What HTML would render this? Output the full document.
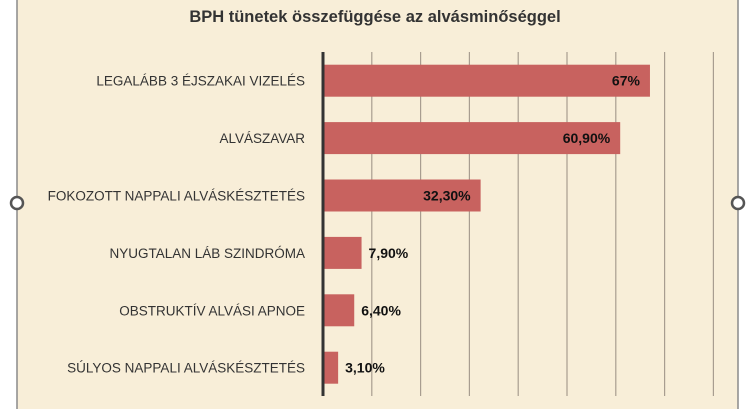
<!DOCTYPE html>
<html><head><meta charset="utf-8"><style>
body{margin:0;width:750px;height:409px;background:#fff;overflow:hidden;font-family:"Liberation Sans",sans-serif}
</style></head><body>
<svg width="750" height="409" viewBox="0 0 750 409">
<rect x="17" y="-2" width="721" height="420" fill="#f8eed8" stroke="#8a8a8a" stroke-width="1.5"/>
<text x="375" y="22" text-anchor="middle" font-size="16.5" font-weight="bold" fill="#333">BPH tünetek összefüggése az alvásminőséggel</text>
<g id="grid"></g>
<g id="bars"></g>
<line x1="323" y1="52" x2="323" y2="396" stroke="#333" stroke-width="3"/>
<circle cx="17" cy="203" r="6" fill="#fff" stroke="#555" stroke-width="2.5"/>
<circle cx="738" cy="203" r="6" fill="#fff" stroke="#555" stroke-width="2.5"/>
</svg>
<script>
const categories=["LEGALÁBB 3 ÉJSZAKAI VIZELÉS","ALVÁSZAVAR","FOKOZOTT NAPPALI ALVÁSKÉSZTETÉS","NYUGTALAN LÁB SZINDRÓMA","OBSTRUKTÍV ALVÁSI APNOE","SÚLYOS NAPPALI ALVÁSKÉSZTETÉS"];
const values=[67,60.9,32.3,7.9,6.4,3.1];
const valueLabels=["67%","60,90%","32,30%","7,90%","6,40%","3,10%"];
const gridTicks=[10,20,30,40,50,60,70,80];
const NS="http://www.w3.org/2000/svg";
const x0=323,pxPer=4.88,plotTop=52,rowH=57.4,barH=32;
const xs=v=>x0+v*pxPer;
const gridG=document.getElementById('grid'),barsG=document.getElementById('bars');
gridTicks.forEach(t=>{const l=document.createElementNS(NS,'line');
l.setAttribute('x1',xs(t));l.setAttribute('x2',xs(t));l.setAttribute('y1',plotTop);l.setAttribute('y2',396);
l.setAttribute('stroke','#a89d90');l.setAttribute('stroke-width','1.2');


gridG.appendChild(l);});
categories.forEach((c,i)=>{const cy=plotTop+rowH*(i+0.5);
const r=document.createElementNS(NS,'rect');
r.setAttribute('x',x0);r.setAttribute('y',cy-barH/2);r.setAttribute('width',values[i]*pxPer);r.setAttribute('height',barH);
r.setAttribute('fill','#c8625f');


barsG.appendChild(r);
const t=document.createElementNS(NS,'text');
t.setAttribute('x',305);t.setAttribute('y',cy+5);t.setAttribute('text-anchor','end');t.setAttribute('font-size','13.5');t.setAttribute('fill','#333');
t.textContent=c;


barsG.appendChild(t);
const v=document.createElementNS(NS,'text');
const inside=values[i]>20;
v.setAttribute('x',inside?xs(values[i])-10:xs(values[i])+7);v.setAttribute('y',cy+5);
v.setAttribute('text-anchor',inside?'end':'start');v.setAttribute('font-size','14');v.setAttribute('font-weight','bold');v.setAttribute('fill','#111');
v.textContent=valueLabels[i];


barsG.appendChild(v);});
</script>
</body></html>
